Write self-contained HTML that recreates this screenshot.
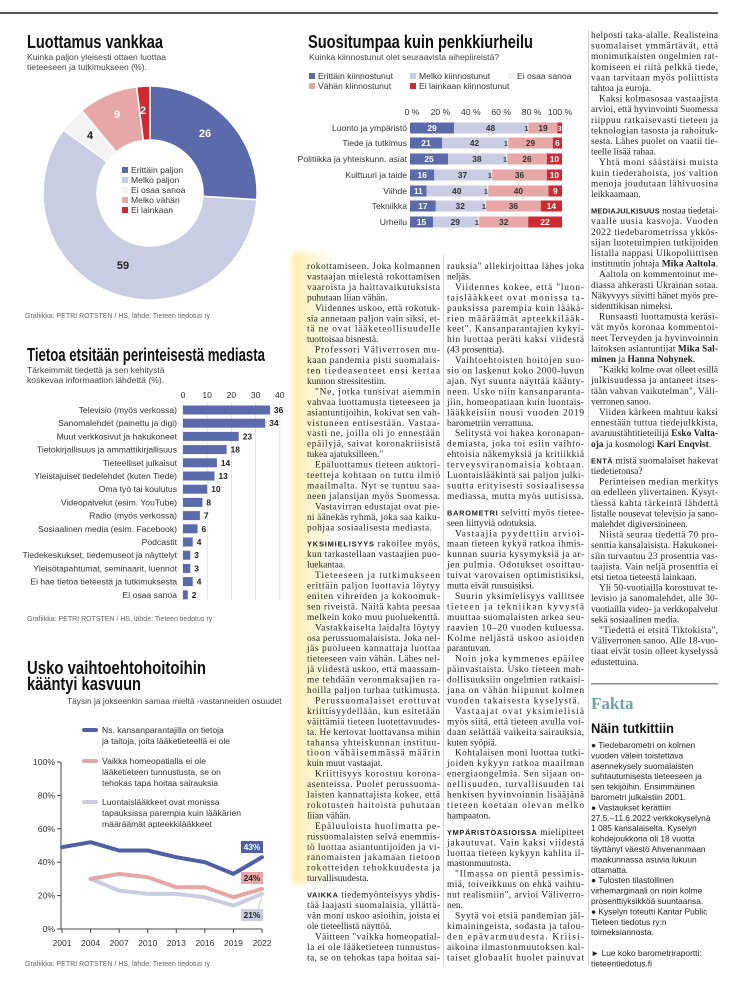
<!DOCTYPE html>
<html><head><meta charset="utf-8">
<style>
html,body{margin:0;padding:0;background:#fff;}
svg{display:block;}
.t{font-family:"Liberation Sans",sans-serif;}
.s{font-family:"Liberation Serif",serif;font-size:9.4px;fill:#222;}
.b{font-family:"Liberation Sans",sans-serif;font-weight:bold;font-size:7.4px;letter-spacing:0.3px;}
.lab{font-family:"Liberation Sans",sans-serif;font-size:8.6px;fill:#333;}
.val{font-family:"Liberation Sans",sans-serif;font-size:8.4px;font-weight:bold;}
.fk{font-family:"Liberation Sans",sans-serif;font-size:8.4px;fill:#222;}
</style></head><body>
<svg width="746" height="1000" viewBox="0 0 746 1000" xmlns="http://www.w3.org/2000/svg">
<defs>
<linearGradient id="yg" x1="0" x2="1" y1="0" y2="0">
<stop offset="0" stop-color="#ffe58a" stop-opacity="0.75"/>
<stop offset="0.6" stop-color="#fff0b8" stop-opacity="0.45"/>
<stop offset="1" stop-color="#fff8d8" stop-opacity="0"/>
</linearGradient>
<filter id="bl"><feGaussianBlur stdDeviation="3"/></filter>
</defs>
<rect width="746" height="1000" fill="#fff"/>
<rect x="0" y="12" width="718" height="2" fill="#555"/>
<line x1="443.5" y1="255" x2="443.5" y2="965" stroke="#d4d4d4" stroke-width="1"/>
<line x1="588.5" y1="30" x2="588.5" y2="965" stroke="#d4d4d4" stroke-width="1"/>
<rect x="292" y="252" width="46" height="632" fill="url(#yg)" filter="url(#bl)"/>

<!-- ===== Chart 1 donut ===== -->
<text class="t" x="27" y="48" font-size="18" font-weight="bold" fill="#111" textLength="136" lengthAdjust="spacingAndGlyphs">Luottamus vankkaa</text>
<text class="t" x="27" y="60" font-size="8.6" fill="#444">Kuinka paljon yleisesti ottaen luottaa</text>
<text class="t" x="27" y="70" font-size="8.6" fill="#444">tieteeseen ja tutkimukseen (%).</text>
<g stroke="#fff" stroke-width="1.5">
<path d="M150,86 A107,107 0 0 1 256.79,199.72 L202.9,196.33 A53,53 0 0 0 150,140 Z" fill="#5a6aab"/>
<path d="M256.79,199.72 A107,107 0 1 1 63.43,130.11 L107.12,161.85 A53,53 0 1 0 202.9,196.33 Z" fill="#c9cde4"/>
<path d="M63.43,130.11 A107,107 0 0 1 81.8,110.56 L116.22,152.16 A53,53 0 0 0 107.12,161.85 Z" fill="#f3f3f3"/>
<path d="M81.8,110.56 A107,107 0 0 1 136.59,86.84 L143.36,140.42 A53,53 0 0 0 116.22,152.16 Z" fill="#e8a7a7"/>
<path d="M136.59,86.84 A107,107 0 0 1 150,86 L150,140 A53,53 0 0 0 143.36,140.42 Z" fill="#cf2a32"/>
</g>
<g class="t" font-weight="bold" font-size="11" text-anchor="middle">
<text x="205" y="137" fill="#fff">26</text>
<text x="123" y="269" fill="#222">59</text>
<text x="90" y="139" fill="#222">4</text>
<text x="117" y="118" fill="#fff">9</text>
<text x="143" y="114" fill="#fff">2</text>
</g>
<g class="lab">
<rect x="122" y="167" width="6" height="6" fill="#5a6aab"/><text x="131" y="173">Erittäin paljon</text>
<rect x="122" y="177" width="6" height="6" fill="#c9cde4"/><text x="131" y="183">Melko paljon</text>
<rect x="122" y="187" width="6" height="6" fill="#f3f3f3"/><text x="131" y="193">Ei osaa sanoa</text>
<rect x="122" y="197" width="6" height="6" fill="#e8a7a7"/><text x="131" y="203">Melko vähän</text>
<rect x="122" y="207" width="6" height="6" fill="#cf2a32"/><text x="131" y="213">Ei lainkaan</text>
</g>
<text class="t" x="25" y="318" font-size="7" fill="#666">Grafiikka: PETRI ROTSTEN / HS, lähde: Tieteen tiedotus ry</text>

<!-- ===== Chart 2 stacked ===== -->
<text class="t" x="308" y="48" font-size="18" font-weight="bold" fill="#111" textLength="225" lengthAdjust="spacingAndGlyphs">Suositumpaa kuin penkkiurheilu</text>
<text class="t" x="309" y="60" font-size="8.6" fill="#444">Kuinka kiinnostunut olet seuraavista aihepiireistä?</text>
<g class="lab">
<rect x="309" y="73" width="6" height="6" fill="#5a6aab"/><text x="318" y="79">Erittäin kiinnostunut</text>
<rect x="410" y="73" width="6" height="6" fill="#c9cde4"/><text x="419" y="79">Melko kiinnostunut</text>
<rect x="508" y="73" width="6" height="6" fill="#eeeeee"/><text x="517" y="79">Ei osaa sanoa</text>
<rect x="309" y="83" width="6" height="6" fill="#e8a7a7"/><text x="318" y="89">Vähän kiinnostunut</text>
<rect x="410" y="83" width="6" height="6" fill="#cf2a32"/><text x="419" y="89">Ei lainkaan kiinnostunut</text>
</g>
<g class="lab" text-anchor="middle" font-size="8.2">
<text x="412" y="115">0 %</text><text x="440.4" y="115">20 %</text><text x="470.8" y="115">40 %</text><text x="501.2" y="115">60 %</text><text x="531.6" y="115">80 %</text><text x="560" y="115">100 %</text>
</g>
<g class="lab" text-anchor="end">
<text x="407" y="131">Luonto ja ympäristö</text>
<text x="407" y="146">Tiede ja tutkimus</text>
<text x="407" y="162">Politiikka ja yhteiskunn. asiat</text>
<text x="407" y="178">Kulttuuri ja taide</text>
<text x="407" y="194">Viihde</text>
<text x="407" y="209">Tekniikka</text>
<text x="407" y="225">Urheilu</text>
</g>
<g>
<rect x="410" y="122.5" width="44.1" height="11" fill="#5a6aab"/><rect x="454.1" y="122.5" width="72.9" height="11" fill="#c9cde4"/><rect x="527" y="122.5" width="1.6" height="11" fill="#e6e6e6"/><rect x="528.6" y="122.5" width="28.8" height="11" fill="#e8a7a7"/><rect x="557.4" y="122.5" width="4.6" height="11" fill="#cf2a32"/>
<rect x="410" y="137.5" width="32.2" height="11" fill="#5a6aab"/><rect x="442.2" y="137.5" width="64.5" height="11" fill="#c9cde4"/><rect x="506.7" y="137.5" width="1.5" height="11" fill="#e6e6e6"/><rect x="508.2" y="137.5" width="44.6" height="11" fill="#e8a7a7"/><rect x="552.8" y="137.5" width="9.2" height="11" fill="#cf2a32"/>
<rect x="410" y="153.5" width="38" height="11" fill="#5a6aab"/><rect x="448" y="153.5" width="57.8" height="11" fill="#c9cde4"/><rect x="505.8" y="153.5" width="1.5" height="11" fill="#e6e6e6"/><rect x="507.3" y="153.5" width="39.5" height="11" fill="#e8a7a7"/><rect x="546.8" y="153.5" width="15.2" height="11" fill="#cf2a32"/>
<rect x="410" y="169.5" width="24.3" height="11" fill="#5a6aab"/><rect x="434.3" y="169.5" width="56.3" height="11" fill="#c9cde4"/><rect x="490.6" y="169.5" width="1.5" height="11" fill="#e6e6e6"/><rect x="492.1" y="169.5" width="54.7" height="11" fill="#e8a7a7"/><rect x="546.8" y="169.5" width="15.2" height="11" fill="#cf2a32"/>
<rect x="410" y="185.5" width="16.6" height="11" fill="#5a6aab"/><rect x="426.6" y="185.5" width="60.2" height="11" fill="#c9cde4"/><rect x="486.8" y="185.5" width="1.5" height="11" fill="#e6e6e6"/><rect x="488.3" y="185.5" width="60.2" height="11" fill="#e8a7a7"/><rect x="548.5" y="185.5" width="13.5" height="11" fill="#cf2a32"/>
<rect x="410" y="200.5" width="25.8" height="11" fill="#5a6aab"/><rect x="435.8" y="200.5" width="48.7" height="11" fill="#c9cde4"/><rect x="484.5" y="200.5" width="1.5" height="11" fill="#e6e6e6"/><rect x="486" y="200.5" width="54.7" height="11" fill="#e8a7a7"/><rect x="540.7" y="200.5" width="21.3" height="11" fill="#cf2a32"/>
<rect x="410" y="216.5" width="23" height="11" fill="#5a6aab"/><rect x="433" y="216.5" width="44.5" height="11" fill="#c9cde4"/><rect x="477.5" y="216.5" width="1.6" height="11" fill="#e6e6e6"/><rect x="479.1" y="216.5" width="49.1" height="11" fill="#e8a7a7"/><rect x="528.2" y="216.5" width="33.8" height="11" fill="#cf2a32"/>
</g>
<g class="val" text-anchor="middle">
<text x="432" y="131" fill="#fff">29</text><text x="490.5" y="131" fill="#333">48</text><text x="526.5" y="131" fill="#333" font-size="7">1</text><text x="543" y="131" fill="#333">19</text><text x="559.7" y="131" fill="#fff" font-size="7">3</text>
<text x="426.1" y="146" fill="#fff">21</text><text x="474.5" y="146" fill="#333">42</text><text x="506" y="146" fill="#333" font-size="7">1</text><text x="530.5" y="146" fill="#333">29</text><text x="557.4" y="146" fill="#fff">6</text>
<text x="429" y="162" fill="#fff">25</text><text x="476.9" y="162" fill="#333">38</text><text x="505" y="162" fill="#333" font-size="7">1</text><text x="527" y="162" fill="#333">26</text><text x="554.4" y="162" fill="#fff">10</text>
<text x="422.2" y="178" fill="#fff">16</text><text x="462.5" y="178" fill="#333">37</text><text x="490" y="178" fill="#333" font-size="7">1</text><text x="519.5" y="178" fill="#333">36</text><text x="554.4" y="178" fill="#fff">10</text>
<text x="418.3" y="194" fill="#fff">11</text><text x="456.7" y="194" fill="#333">40</text><text x="486" y="194" fill="#333" font-size="7">1</text><text x="518.4" y="194" fill="#333">40</text><text x="555.3" y="194" fill="#fff">9</text>
<text x="422.9" y="209" fill="#fff">17</text><text x="460.2" y="209" fill="#333">32</text><text x="484" y="209" fill="#333" font-size="7">1</text><text x="513.4" y="209" fill="#333">36</text><text x="551.4" y="209" fill="#fff">14</text>
<text x="421.5" y="225" fill="#fff">15</text><text x="455.3" y="225" fill="#333">29</text><text x="477" y="225" fill="#333" font-size="7">1</text><text x="503.7" y="225" fill="#333">32</text><text x="545.1" y="225" fill="#fff">22</text>
</g>

<!-- ===== Chart 3 ===== -->
<text class="t" x="27" y="361" font-size="18" font-weight="bold" fill="#111" textLength="238" lengthAdjust="spacingAndGlyphs">Tietoa etsitään perinteisestä mediasta</text>
<text class="t" x="27" y="373" font-size="8.6" fill="#444">Tärkeimmät tiedettä ja sen kehitystä</text>
<text class="t" x="27" y="383" font-size="8.6" fill="#444">koskevaa informaation lähdettä (%).</text>
<g class="lab" text-anchor="middle">
<text x="183" y="398">0</text><text x="207.2" y="398">10</text><text x="231.4" y="398">20</text><text x="255.6" y="398">30</text><text x="279.8" y="398">40</text>
</g>
<g stroke="#dcdcdc" stroke-width="0.8">
<line x1="183" y1="402" x2="183" y2="600"/><line x1="207.2" y1="402" x2="207.2" y2="600"/><line x1="231.4" y1="402" x2="231.4" y2="600"/><line x1="255.6" y1="402" x2="255.6" y2="600"/><line x1="279.8" y1="402" x2="279.8" y2="600"/>
</g>
<g fill="#5a6aab">
<rect x="183" y="405.5" width="87.1" height="9"/>
<rect x="183" y="418.7" width="82.3" height="9"/>
<rect x="183" y="431.9" width="55.7" height="9"/>
<rect x="183" y="445.1" width="43.6" height="9"/>
<rect x="183" y="458.3" width="33.9" height="9"/>
<rect x="183" y="471.5" width="31.5" height="9"/>
<rect x="183" y="484.7" width="24.2" height="9"/>
<rect x="183" y="497.9" width="19.4" height="9"/>
<rect x="183" y="511.1" width="16.9" height="9"/>
<rect x="183" y="524.3" width="14.5" height="9"/>
<rect x="183" y="537.5" width="9.7" height="9"/>
<rect x="183" y="550.7" width="7.3" height="9"/>
<rect x="183" y="563.9" width="7.3" height="9"/>
<rect x="183" y="577.1" width="9.7" height="9"/>
<rect x="183" y="590.3" width="4.8" height="9"/>
</g>
<g class="lab" text-anchor="end">
<text x="177" y="413">Televisio (myös verkossa)</text>
<text x="177" y="426.2">Sanomalehdet (painettu ja digi)</text>
<text x="177" y="439.4">Muut verkkosivut ja hakukoneet</text>
<text x="177" y="452.6">Tietokirjallisuus ja ammattikirjallisuus</text>
<text x="177" y="465.8">Tieteelliset julkaisut</text>
<text x="177" y="479">Yleistajuiset tiedelehdet (kuten Tiede)</text>
<text x="177" y="492.2">Oma työ tai koulutus</text>
<text x="177" y="505.4">Videopalvelut (esim. YouTube)</text>
<text x="177" y="518.6">Radio (myös verkossa)</text>
<text x="177" y="531.8">Sosiaalinen media (esim. Facebook)</text>
<text x="177" y="545">Podcastit</text>
<text x="177" y="558.2">Tiedekeskukset, tiedemuseot ja näyttelyt</text>
<text x="177" y="571.4">Yleisötapahtumat, seminaarit, luennot</text>
<text x="177" y="584.6">Ei hae tietoa tieteestä ja tutkimuksesta</text>
<text x="177" y="597.8">Ei osaa sanoa</text>
</g>
<g class="val" fill="#222">
<text x="274" y="413">36</text><text x="269.3" y="426.2">34</text><text x="242.7" y="439.4">23</text><text x="230.6" y="452.6">18</text><text x="220.9" y="465.8">14</text><text x="218.5" y="479">13</text><text x="211.2" y="492.2">10</text><text x="206.4" y="505.4">8</text><text x="203.9" y="518.6">7</text><text x="201.5" y="531.8">6</text><text x="196.7" y="545">4</text><text x="194.3" y="558.2">3</text><text x="194.3" y="571.4">3</text><text x="196.7" y="584.6">4</text><text x="191.8" y="597.8">2</text>
</g>
<text class="t" x="27" y="621" font-size="7" fill="#666">Grafiikka: PETRI ROTSTEN / HS, lähde: Tieteen tiedotus ry</text>

<!-- ===== Chart 4 ===== -->
<text class="t" x="27" y="674" font-size="18" font-weight="bold" fill="#111" textLength="179" lengthAdjust="spacingAndGlyphs">Usko vaihtoehtohoitoihin</text>
<text class="t" x="27" y="690" font-size="18" font-weight="bold" fill="#111" textLength="114" lengthAdjust="spacingAndGlyphs">kääntyi kasvuun</text>
<text class="t" x="67" y="704" font-size="8.4" fill="#444">Täysin ja jokseenkin samaa mieltä -vastanneiden osuudet</text>
<g stroke-linecap="round" stroke-width="4">
<line x1="84" y1="730" x2="96" y2="730" stroke="#4e5fa5"/>
<line x1="84" y1="761" x2="96" y2="761" stroke="#e8a7a7"/>
<line x1="84" y1="802" x2="96" y2="802" stroke="#c9cde4"/>
</g>
<g class="lab">
<text x="102" y="733">Ns. kansanparantajilla on tietoja</text>
<text x="102" y="744">ja taitoja, joita lääketieteellä ei ole</text>
<text x="102" y="764">Vaikka homeopatialla ei ole</text>
<text x="102" y="775">lääketieteen tunnustusta, se on</text>
<text x="102" y="786">tehokas tapa hoitaa sairauksia</text>
<text x="102" y="805">Luontaislääkkeet ovat monissa</text>
<text x="102" y="816">tapauksissa parempia kuin lääkärien</text>
<text x="102" y="827">määräämät apteekkilääkkeet</text>
</g>
<g stroke="#444" stroke-width="1">
<line x1="61" y1="762" x2="61" y2="929"/>
<line x1="61" y1="929" x2="262" y2="929"/>
<line x1="57" y1="762" x2="61" y2="762"/><line x1="57" y1="795.4" x2="61" y2="795.4"/><line x1="57" y1="828.8" x2="61" y2="828.8"/><line x1="57" y1="862.2" x2="61" y2="862.2"/><line x1="57" y1="895.6" x2="61" y2="895.6"/><line x1="57" y1="929" x2="61" y2="929"/>
<line x1="62" y1="929" x2="62" y2="933"/><line x1="90.6" y1="929" x2="90.6" y2="933"/><line x1="119.1" y1="929" x2="119.1" y2="933"/><line x1="147.7" y1="929" x2="147.7" y2="933"/><line x1="176.3" y1="929" x2="176.3" y2="933"/><line x1="204.9" y1="929" x2="204.9" y2="933"/><line x1="233.4" y1="929" x2="233.4" y2="933"/><line x1="262" y1="929" x2="262" y2="933"/>
</g>
<g class="lab" text-anchor="end" font-size="8.2">
<text x="55" y="765">100%</text><text x="55" y="798.4">80%</text><text x="55" y="831.8">60%</text><text x="55" y="865.2">40%</text><text x="55" y="898.6">20%</text><text x="55" y="932">0%</text>
</g>
<g class="lab" text-anchor="middle" font-size="8.2">
<text x="62" y="946">2001</text><text x="90.6" y="946">2004</text><text x="119.1" y="946">2007</text><text x="147.7" y="946">2010</text><text x="176.3" y="946">2013</text><text x="204.9" y="946">2016</text><text x="233.4" y="946">2019</text><text x="262" y="946">2022</text>
</g>
<g fill="none" stroke-width="4" stroke-linejoin="round" stroke-linecap="round">
<polyline stroke="#c9cde4" points="90.6,878.9 119.1,890.6 147.7,893.9 176.3,893.9 204.9,897.3 233.4,905.6 262,893.9"/>
<polyline stroke="#e8a7a7" points="90.6,878.9 119.1,873.9 147.7,877.2 176.3,887.3 204.9,887.3 233.4,897.3 262,888.9"/>
<polyline stroke="#4e5fa5" points="62,847.2 90.6,842.2 119.1,850.5 147.7,850.5 176.3,857.2 204.9,862.2 233.4,873.9 262,857.2"/>
</g>
<line x1="258" y1="909" x2="262" y2="896" stroke="#c9cde4" stroke-width="1"/>
<rect x="241" y="841" width="22" height="12" fill="#4e5fa5"/><text class="val" x="252" y="850" text-anchor="middle" fill="#fff">43%</text>
<rect x="241" y="872" width="22" height="12" fill="#e8a7a7"/><text class="val" x="252" y="881" text-anchor="middle" fill="#222">24%</text>
<rect x="241" y="909" width="22" height="12" fill="#c9cde4"/><text class="val" x="252" y="918" text-anchor="middle" fill="#222">21%</text>
<text class="t" x="25" y="966" font-size="7" fill="#666">Grafiikka: PETRI ROTSTEN / HS, lähde: Tieteen tiedotus ry</text>

<!-- ===== Column 1 ===== -->
<g class="s" transform="translate(307,0)">
<text y="269" textLength="133">rokottamiseen. Joka kolmannen</text>
<text y="279.5" textLength="133">vastaajan mielestä rokottamisen</text>
<text y="289.9" textLength="133">vaaroista ja haittavaikutuksista</text>
<text y="300.4">puhutaan liian vähän.</text>
<text x="8" y="310.8" textLength="125">Viidennes uskoo, että rokotuk-</text>
<text y="321.3" textLength="133">sia annetaan paljon vain siksi, et-</text>
<text y="331.7" textLength="133">tä ne ovat lääketeollisuudelle</text>
<text y="342.2">tuottoisaa bisnestä.</text>
<text x="8" y="352.6" textLength="125">Professori Väliverrosen mu-</text>
<text y="363.1" textLength="133">kaan pandemia pisti suomalais-</text>
<text y="373.5" textLength="133">ten tiedeasenteet ensi kertaa</text>
<text y="384">kunnon stressitestiin.</text>
<text x="8" y="394.4" textLength="125">"Ne, jotka tunsivat aiemmin</text>
<text y="404.9" textLength="133">vahvaa luottamusta tieteeseen ja</text>
<text y="415.3" textLength="133">asiantuntijoihin, kokivat sen vah-</text>
<text y="425.8" textLength="133">vistuneen entisestään. Vastaa-</text>
<text y="436.2" textLength="133">vasti ne, joilla oli jo ennestään</text>
<text y="446.7" textLength="133">epäilyjä, saivat koronakriisistä</text>
<text y="457.1">tukea ajatuksilleen."</text>
<text x="8" y="467.6" textLength="125">Epäluottamus tieteen auktori-</text>
<text y="478" textLength="133">teetteja kohtaan on tuttu ilmiö</text>
<text y="488.5" textLength="133">maailmalta. Nyt se tuntuu saa-</text>
<text y="498.9" textLength="133">neen jalansijan myös Suomessa.</text>
<text x="8" y="509.4" textLength="125">Vastavirran edustajat ovat pie-</text>
<text y="519.8" textLength="133">ni äänekäs ryhmä, joka saa kaiku-</text>
<text y="530.3" textLength="125">pohjaa sosiaalisesta mediasta.</text>
<text y="546.7" textLength="133"><tspan class="b">YKSIMIELISYYS</tspan> rakoilee myös,</text>
<text y="557.2" textLength="133">kun tarkastellaan vastaajien puo-</text>
<text y="567.6">luekantaa.</text>
<text x="8" y="578.1" textLength="125">Tieteeseen ja tutkimukseen</text>
<text y="588.5" textLength="133">erittäin paljon luottavia löytyy</text>
<text y="599" textLength="133">eniten vihreiden ja kokoomuk-</text>
<text y="609.4" textLength="133">sen riveistä. Näitä kahta peesaa</text>
<text y="619.9" textLength="133">melkein koko muu puoluekenttä.</text>
<text x="8" y="630.3" textLength="125">Vastakkaiselta laidalta löytyy</text>
<text y="640.8" textLength="133">osa perussuomalaisista. Joka nel-</text>
<text y="651.2" textLength="133">jäs puolueen kannattaja luottaa</text>
<text y="661.7" textLength="133">tieteeseen vain vähän. Lähes nel-</text>
<text y="672.1" textLength="133">jä viidestä uskoo, että maassam-</text>
<text y="682.6" textLength="133">me tehdään veronmaksajien ra-</text>
<text y="693" textLength="133">hoilla paljon turhaa tutkimusta.</text>
<text x="8" y="703.5" textLength="125">Perussuomalaiset erottuvat</text>
<text y="713.9" textLength="133">kriittisyydellään, kun esitetään</text>
<text y="724.4" textLength="133">väittämiä tieteen luotettavuudes-</text>
<text y="734.8" textLength="133">ta. He kertovat luottavansa mihin</text>
<text y="745.3" textLength="133">tahansa yhteiskunnan instituu-</text>
<text y="755.7" textLength="133">tioon vähäisemmässä määrin</text>
<text y="766.2">kuin muut vastaajat.</text>
<text x="8" y="776.6" textLength="125">Kriittisyys korostuu korona-</text>
<text y="787.1" textLength="133">asenteissa. Puolet perussuoma-</text>
<text y="797.5" textLength="133">laisten kannattajista kokee, että</text>
<text y="808" textLength="133">rokotusten haitoista puhutaan</text>
<text y="818.4">liian vähän.</text>
<text x="8" y="828.9" textLength="125">Epäluuloista huolimatta pe-</text>
<text y="839.3" textLength="133">russuomalaisten selvä enemmis-</text>
<text y="849.8" textLength="133">tö luottaa asiantuntijoiden ja vi-</text>
<text y="860.2" textLength="133">ranomaisten jakamaan tietoon</text>
<text y="870.7" textLength="133">rokotteiden tehokkuudesta ja</text>
<text y="881.1">turvallisuudesta.</text>
<text y="897.6" textLength="133"><tspan class="b">VAIKKA</tspan> tiedemyönteisyys yhdis-</text>
<text y="908" textLength="133">tää laajasti suomalaisia, yllättä-</text>
<text y="918.5" textLength="133">vän moni uskoo asioihin, joista ei</text>
<text y="928.9">ole tieteellistä näyttöä.</text>
<text x="8" y="939.4" textLength="125">Väitteen "vaikka homeopatial-</text>
<text y="949.8" textLength="133">la ei ole lääketieteen tunnustus-</text>
<text y="960.3" textLength="133">ta, se on tehokas tapa hoitaa sai-</text>
</g>

<!-- ===== Column 2 ===== -->
<g class="s" transform="translate(447,0)">
<text y="269" textLength="137">rauksia" allekirjoittaa lähes joka</text>
<text y="279.5">neljäs.</text>
<text x="8" y="289.9" textLength="129">Viidennes kokee, että "luon-</text>
<text y="300.4" textLength="137">taislääkkeet ovat monissa ta-</text>
<text y="310.8" textLength="137">pauksissa parempia kuin lääkä-</text>
<text y="321.3" textLength="137">rien määräämät apteekkilääk-</text>
<text y="331.7" textLength="137">keet". Kansanparantajien kykyi-</text>
<text y="342.2" textLength="137">hin luottaa peräti kaksi viidestä</text>
<text y="352.6">(43 prosenttia).</text>
<text x="8" y="363.1" textLength="129">Vaihtoehtoisten hoitojen suo-</text>
<text y="373.5" textLength="137">sio on laskenut koko 2000-luvun</text>
<text y="384" textLength="137">ajan. Nyt suunta näyttää käänty-</text>
<text y="394.4" textLength="137">neen. Usko niin kansanparanta-</text>
<text y="404.9" textLength="137">jiin, homeopatiaan kuin luontais-</text>
<text y="415.3" textLength="137">lääkkeisiin nousi vuoden 2019</text>
<text y="425.8">barometriin verrattuna.</text>
<text x="8" y="436.2" textLength="129">Selitystä voi hakea koronapan-</text>
<text y="446.7" textLength="137">demiasta, joka toi esiin vaihto-</text>
<text y="457.1" textLength="137">ehtoisia näkemyksiä ja kritiikkiä</text>
<text y="467.6" textLength="137">terveysviranomaisia kohtaan.</text>
<text y="478" textLength="137">Luontaislääkintä sai paljon julki-</text>
<text y="488.5" textLength="137">suutta erityisesti sosiaalisessa</text>
<text y="498.9" textLength="137">mediassa, mutta myös uutisissa.</text>
<text y="515.4" textLength="137"><tspan class="b">BAROMETRI</tspan> selvitti myös tietee-</text>
<text y="525.8">seen liittyviä odotuksia.</text>
<text x="8" y="536.3" textLength="129">Vastaajia pyydettiin arvioi-</text>
<text y="546.7" textLength="137">maan tieteen kykyä ratkoa ihmis-</text>
<text y="557.2" textLength="137">kunnan suuria kysymyksiä ja ar-</text>
<text y="567.6" textLength="137">jen pulmia. Odotukset osoittau-</text>
<text y="578.1" textLength="137">tuivat varovaisen optimistisiksi,</text>
<text y="588.5">mutta eivät ruusuisiksi.</text>
<text x="8" y="599" textLength="129">Suurin yksimielisyys vallitsee</text>
<text y="609.4" textLength="137">tieteen ja tekniikan kyvystä</text>
<text y="619.9" textLength="137">muuttaa suomalaisten arkea seu-</text>
<text y="630.3" textLength="137">raavien 10–20 vuoden kuluessa.</text>
<text y="640.8" textLength="137">Kolme neljästä uskoo asioiden</text>
<text y="651.2">parantuvan.</text>
<text x="8" y="661.7" textLength="129">Noin joka kymmenes epäilee</text>
<text y="672.1" textLength="137">päinvastaista. Usko tieteen mah-</text>
<text y="682.6" textLength="137">dollisuuksiin ongelmien ratkaisi-</text>
<text y="693" textLength="137">jana on vähän hiipunut kolmen</text>
<text y="703.5" textLength="133">vuoden takaisesta kyselystä.</text>
<text x="8" y="713.9" textLength="129">Vastaajat ovat yksimielisiä</text>
<text y="724.4" textLength="137">myös siitä, että tieteen avulla voi-</text>
<text y="734.8" textLength="137">daan selättää vaikeita sairauksia,</text>
<text y="745.3">kuten syöpiä.</text>
<text x="8" y="755.7" textLength="129">Kohtalaisen moni luottaa tutki-</text>
<text y="766.2" textLength="137">joiden kykyyn ratkoa maailman</text>
<text y="776.6" textLength="137">energiaongelmia. Sen sijaan on-</text>
<text y="787.1" textLength="137">nellisuuden, turvallisuuden tai</text>
<text y="797.5" textLength="137">henkisen hyvinvoinnin lisääjänä</text>
<text y="808" textLength="137">tieteen koetaan olevan melko</text>
<text y="818.4">hampaaton.</text>
<text y="834.9" textLength="137"><tspan class="b">YMPÄRISTÖASIOISSA</tspan> mielipiteet</text>
<text y="845.3" textLength="137">jakautuvat. Vain kaksi viidestä</text>
<text y="855.8" textLength="137">luottaa tieteen kykyyn kahlita il-</text>
<text y="866.2">mastonmuutosta.</text>
<text x="8" y="876.7" textLength="129">"Ilmassa on pientä pessimis-</text>
<text y="887.1" textLength="137">miä, toiveikkuus on ehkä vaihtu-</text>
<text y="897.6" textLength="137">nut realismiin", arvioi Väliverro-</text>
<text y="908">nen.</text>
<text x="8" y="918.5" textLength="129">Syytä voi etsiä pandemian jäl-</text>
<text y="928.9" textLength="137">kimainingeista, sodasta ja talou-</text>
<text y="939.4" textLength="137">den epävarmuudesta. Kriisi-</text>
<text y="949.8" textLength="137">aikoina ilmastonmuutoksen kal-</text>
<text y="960.3" textLength="137">taiset globaalit huolet painuvat</text>
</g>

<!-- ===== Column 3 ===== -->
<g class="s" transform="translate(591,0)">
<text y="38" textLength="127">helposti taka-alalle. Realisteina</text>
<text y="48.6" textLength="127">suomalaiset ymmärtävät, että</text>
<text y="59.2" textLength="127">monimutkaisten ongelmien rat-</text>
<text y="69.8" textLength="127">komiseen ei riitä pelkkä tiede,</text>
<text y="80.4" textLength="127">vaan tarvitaan myös poliittista</text>
<text y="91">tahtoa ja euroja.</text>
<text x="8" y="101.6" textLength="119">Kaksi kolmasosaa vastaajista</text>
<text y="112.2" textLength="127">arvioi, että hyvinvointi Suomessa</text>
<text y="122.8" textLength="127">riippuu ratkaisevasti tieteen ja</text>
<text y="133.4" textLength="127">teknologian tasosta ja rahoituk-</text>
<text y="144" textLength="127">sesta. Lähes puolet on vaatii tie-</text>
<text y="154.6">teelle lisää rahaa.</text>
<text x="8" y="165.2" textLength="119">Yhtä moni säästäisi muista</text>
<text y="175.8" textLength="127">kuin tiederahoista, jos valtion</text>
<text y="186.4" textLength="127">menoja joudutaan lähivuosina</text>
<text y="197">leikkaamaan.</text>
<text y="213.6" textLength="127"><tspan class="b">MEDIAJULKISUUS</tspan> nostaa tiedetai-</text>
<text y="224.2" textLength="127">vaalle uusia kasvoja. Vuoden</text>
<text y="234.8" textLength="127">2022 tiedebarometrissa ykkös-</text>
<text y="245.4" textLength="127">sijan luotetuimpien tutkijoiden</text>
<text y="256" textLength="127">listalla nappasi Ulkopoliittisen</text>
<text y="266.6" textLength="127">instituutin johtaja <tspan font-weight="bold">Mika Aaltola</tspan>.</text>
<text x="8" y="277.2" textLength="119">Aaltola on kommentoinut me-</text>
<text y="287.8" textLength="127">diassa ahkerasti Ukrainan sotaa.</text>
<text y="298.4" textLength="127">Näkyvyys siivitti hänet myös pre-</text>
<text y="309">sidenttikisan nimeksi.</text>
<text x="8" y="319.6" textLength="119">Runsaasti luottamusta keräsi-</text>
<text y="330.2" textLength="127">vät myös koronaa kommentoi-</text>
<text y="340.8" textLength="127">neet Terveyden ja hyvinvoinnin</text>
<text y="351.4" textLength="127">laitoksen asiantuntijat <tspan font-weight="bold">Mika Sal-</tspan></text>
<text y="362"><tspan font-weight="bold">minen</tspan> ja <tspan font-weight="bold">Hanna Nohynek</tspan>.</text>
<text x="8" y="372.6" textLength="119">"Kaikki kolme ovat olleet esillä</text>
<text y="383.2" textLength="127">julkisuudessa ja antaneet itses-</text>
<text y="393.8" textLength="127">tään vahvan vaikutelman", Väli-</text>
<text y="404.4">verronen sanoo.</text>
<text x="8" y="415" textLength="119">Viiden kärkeen mahtuu kaksi</text>
<text y="425.6" textLength="127">ennestään tuttua tiedejulkkista,</text>
<text y="436.2" textLength="127">avaruustähtitieteilijä <tspan font-weight="bold">Esko Valta-</tspan></text>
<text y="446.8"><tspan font-weight="bold">oja</tspan> ja kosmologi <tspan font-weight="bold">Kari Enqvist</tspan>.</text>
<text y="463.4" textLength="127"><tspan class="b">ENTÄ</tspan> mistä suomalaiset hakevat</text>
<text y="474">tiedetietonsa?</text>
<text x="8" y="484.6" textLength="119">Perinteisen median merkitys</text>
<text y="495.2" textLength="127">on edelleen ylivertainen. Kysyt-</text>
<text y="505.8" textLength="127">täessä kahta tärkeintä lähdettä</text>
<text y="516.4" textLength="127">listalle nousevat televisio ja sano-</text>
<text y="527">malehdet digiversioineen.</text>
<text x="8" y="537.6" textLength="119">Niistä seuraa tiedettä 70 pro-</text>
<text y="548.2" textLength="127">senttia kansalaisista. Hakukonei-</text>
<text y="558.8" textLength="127">siin turvautuu 23 prosenttia vas-</text>
<text y="569.4" textLength="127">taajista. Vain neljä prosenttia ei</text>
<text y="580">etsi tietoa tieteestä lainkaan.</text>
<text x="8" y="590.6" textLength="119">Yli 50-vuotiailla korostuvat te-</text>
<text y="601.2" textLength="127">levisio ja sanomalehdet, alle 30-</text>
<text y="611.8" textLength="127">vuotiailla video- ja verkkopalvelut</text>
<text y="622.4">sekä sosiaalinen media.</text>
<text x="8" y="633" textLength="119">"Tiedettä ei etsitä Tiktokista",</text>
<text y="643.6" textLength="127">Väliverronen sanoo. Alle 18-vuo-</text>
<text y="654.2" textLength="127">tiaat eivät tosin olleet kyselyssä</text>
<text y="664.8">edustettuina.</text>
</g>

<!-- ===== Fakta ===== -->
<rect x="591" y="683" width="127" height="1.5" fill="#888"/>
<text x="591" y="709" font-family="Liberation Serif, serif" font-weight="bold" font-size="17" fill="#6fa3a6">Fakta</text>
<text class="t" x="591" y="733" font-size="13.5" font-weight="bold" fill="#111" textLength="83" lengthAdjust="spacingAndGlyphs">Näin tutkittiin</text>
<g class="fk">
<text x="591" y="748">● Tiedebarometri on kolmen</text>
<text x="591" y="758.4">vuoden välein toistettava</text>
<text x="591" y="768.8">asennekysely suomalaisten</text>
<text x="591" y="779.2">suhtautumisesta tieteeseen ja</text>
<text x="591" y="789.6">sen tekijöihin. Ensimmäinen</text>
<text x="591" y="800">barometri julkaistiin 2001.</text>
<text x="591" y="810.4">● Vastaukset kerättiin</text>
<text x="591" y="820.8">27.5.–11.6.2022 verkkokyselynä</text>
<text x="591" y="831.2">1 085 kansalaiselta. Kyselyn</text>
<text x="591" y="841.6">kohdejoukkona oli 18 vuotta</text>
<text x="591" y="852">täyttänyt väestö Ahvenanmaan</text>
<text x="591" y="862.4">maakunnassa asuvia lukuun</text>
<text x="591" y="872.8">ottamatta.</text>
<text x="591" y="883.2">● Tulosten tilastollinen</text>
<text x="591" y="893.6">virhemarginaali on noin kolme</text>
<text x="591" y="904">prosenttiyksikköä suuntaansa.</text>
<text x="591" y="914.4">● Kyselyn toteutti Kantar Public</text>
<text x="591" y="924.8">Tieteen tiedotus ry:n</text>
<text x="591" y="935.2">toimeksiannosta.</text>
<text x="591" y="956">► Lue koko barometriraportti:</text>
<text x="591" y="966.4">tieteentiedotus.fi</text>
</g>
</svg>
</body></html>
